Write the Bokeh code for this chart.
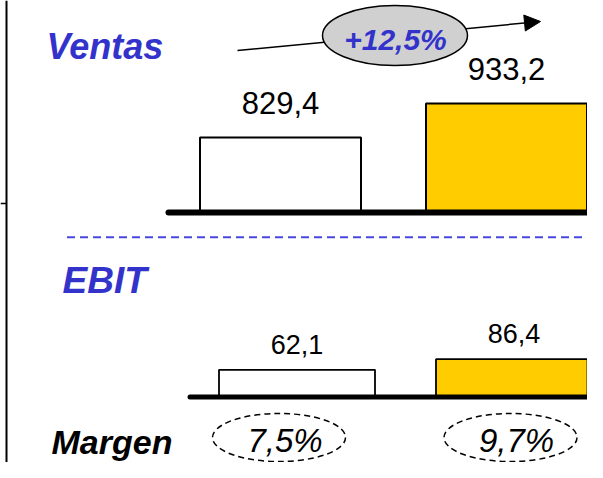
from bokeh.plotting import figure
from bokeh.models import Range1d, Label, Arrow, NormalHead
from bokeh.core.properties import value
from bokeh.embed import file_html
from bokeh.resources import INLINE

# ---------------- data ----------------
periodos = [0, 1]                 # periodo anterior, periodo actual
ventas = [829.4, 933.2]
ebit = [62.1, 86.4]
margen = [7.5, 9.7]
colores = ["white", "#FFCC00"]


def fmt(v, d=1):
    return f"{v:.{d}f}".replace(".", ",")


crecimiento = (ventas[1] / ventas[0] - 1) * 100

# ---------------- layout ----------------
W, H = 587, 462
X0, X1 = 0, W
YB, YT = H, 0                    # picture y at bottom / top of the canvas
FONT = "Liberation Sans"
BLUE = "#3333CC"

p = figure(width=W, height=H, output_backend="svg", toolbar_location=None,
           x_range=Range1d(X0, X1), y_range=Range1d(YB, YT),
           x_axis_type=None, y_axis_type=None, min_border=0,
           outline_line_color=None, background_fill_color="white",
           border_fill_color="white")


def idx_range(c0, step):
    return Range1d((X0 - c0) / step, (X1 - c0) / step)


def val_range(base_px, base_val, scale):
    return Range1d(base_val + (base_px - YB) / scale, base_val + (base_px - YT) / scale)


VENTAS_FLOOR = 600
TOP_BASE, TOP_SCALE = 212, 0.3269
BOT_BASE, BOT_SCALE = 396.5, 0.438
TOP_C, TOP_STEP, TOP_W = 280, 226, 161
BOT_C, BOT_STEP, BOT_W = 296.5, 217, 156
MG_C, MG_STEP = 278.5, 231.5
MG_Y = 437

p.extra_x_ranges = {"top_x": idx_range(TOP_C, TOP_STEP),
                    "bot_x": idx_range(BOT_C, BOT_STEP),
                    "mg_x": idx_range(MG_C, MG_STEP)}
p.extra_y_ranges = {"top_y": val_range(TOP_BASE, VENTAS_FLOOR, TOP_SCALE),
                    "bot_y": val_range(BOT_BASE, 0, BOT_SCALE)}

# left frame line and its small tick
p.line(x=[6, 6], y=[YT, YB], line_color="black", line_width=2)
p.line(x=[0, 6], y=[203, 203], line_color="black", line_width=1.5)

# ---- Ventas ----
p.vbar(x=periodos, width=TOP_W / TOP_STEP, bottom=VENTAS_FLOOR, top=ventas,
       fill_color=colores, line_color="black", line_width=2,
       x_range_name="top_x", y_range_name="top_y")
p.line(x=[168, 620], y=[TOP_BASE, TOP_BASE], line_color="black", line_width=6,
       line_cap="round")
p.text(x=periodos, y=ventas, text=[fmt(v) for v in ventas],
       x_range_name="top_x", y_range_name="top_y", text_align="center",
       text_baseline="middle", y_offset=-35, text_font=value(FONT),
       text_font_size="31px", text_color="black")

p.add_layout(Label(x=46, y=45.5, text="Ventas", text_font=FONT,
                   text_font_style="bold italic", text_font_size="36px",
                   text_color=BLUE, text_baseline="middle"))

# growth arrow + ellipse
p.add_layout(Arrow(end=NormalHead(size=16, fill_color="black", line_color="black",
                                  line_width=1),
                   x_start=237, y_start=50, x_end=540, y_end=21,
                   line_color="black", line_width=1.5, level="underlay"))
p.ellipse(x=[394.5], y=[35], width=145, height=60, width_units="screen",
          height_units="screen", fill_color="#D0D0D0", line_color="black",
          line_width=1.5)
p.add_layout(Label(x=395, y=39, text="+" + fmt(crecimiento) + "%", text_font=FONT,
                   text_font_style="bold italic", text_font_size="30px",
                   text_color=BLUE, text_align="center", text_baseline="middle"))

# separator
p.line(x=[66.5, 620], y=[236.7, 236.7], line_color="#4848E0", line_width=2,
       line_dash="8 5")

# ---- EBIT ----
p.add_layout(Label(x=62, y=280, text="EBIT", text_font=FONT,
                   text_font_style="bold italic", text_font_size="37px",
                   text_color=BLUE, text_baseline="middle"))
p.vbar(x=periodos, width=BOT_W / BOT_STEP, bottom=0, top=ebit,
       fill_color=colores, line_color="black", line_width=1.8,
       x_range_name="bot_x", y_range_name="bot_y")
p.line(x=[189.5, 620], y=[BOT_BASE, BOT_BASE], line_color="black", line_width=5,
       line_cap="round")
p.text(x=periodos, y=ebit, text=[fmt(v) for v in ebit],
       x_range_name="bot_x", y_range_name="bot_y", text_align="center",
       text_baseline="middle", y_offset=-25.5, text_font=value(FONT),
       text_font_size="27px", text_color="black")

# ---- Margen ----
p.add_layout(Label(x=51, y=MG_Y + 4, text="Margen", text_font=FONT,
                   text_font_style="bold italic", text_font_size="34px",
                   text_color="black", text_baseline="middle"))
p.ellipse(x=periodos, y=[MG_Y, MG_Y], width=133, height=48, width_units="screen",
          height_units="screen", fill_color=None, line_color="black",
          line_width=1.5, line_dash="6 4", x_range_name="mg_x")
p.text(x=periodos, y=[MG_Y + 3, MG_Y + 3], text=[fmt(m) + "%" for m in margen],
       x_range_name="mg_x", text_align="center", text_baseline="middle",
       x_offset=6, text_font=value(FONT), text_font_style="italic",
       text_font_size="33px", text_color="black")

open("out.html", "w").write(file_html(p, INLINE))
